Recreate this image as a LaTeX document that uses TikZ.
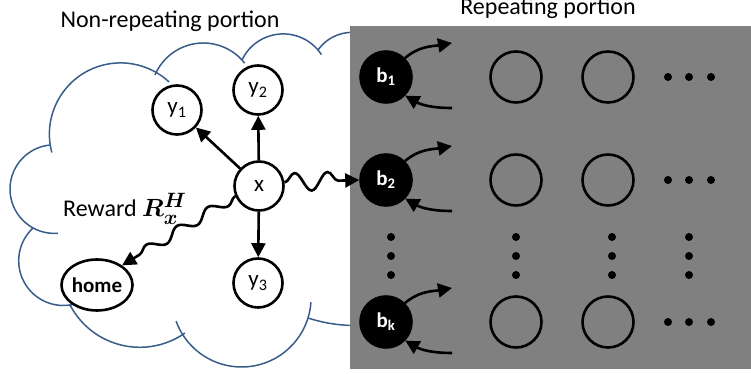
\documentclass[tikz,border=0pt]{standalone}
\usepackage{fontspec}
\setmainfont{Carlito}
\usetikzlibrary{arrows.meta,shapes.geometric,decorations.pathmorphing}
\definecolor{cloudblue}{RGB}{56,93,138}
\definecolor{boxgray}{RGB}{128,128,128}
\begin{document}
\begin{tikzpicture}[x=1pt,y=1pt,
  state/.style={circle,draw,line width=2.6pt,minimum size=49pt,inner sep=0pt,fill=white,font=\fontsize{23}{24}\selectfont},
  bstate/.style={state,minimum size=51pt,fill=black,text=white,font=\fontsize{21}{24}\selectfont\bfseries},
  blank/.style={circle,draw,line width=2.6pt,minimum size=51pt,inner sep=0pt},
  arr/.style={line width=2.6pt,-{Triangle[length=14pt,width=14pt]}},
  wavy/.style={arr,decorate,decoration={snake,amplitude=#1,segment length=33pt,post length=12pt}},
  cloudline/.style={cloudblue,line width=1.5pt},
  title/.style={inner sep=0pt,anchor=base,font=\fontsize{24}{26}\selectfont}]
\useasboundingbox (0,0) rectangle (751,374);
% cloud
\draw[cloudline] (120.6,239.9) ++(195:71.2) arc[start angle=195,end angle=47,radius=71.2];
\draw[cloudline] (203.3,278.5) ++(157:52.5) arc[start angle=157,end angle=38,radius=52.5];
\draw[cloudline] (283.2,294.5) ++(155:45.6) arc[start angle=155,end angle=33,radius=45.6];
\draw[cloudline] (352,300) ++(145:41.6) arc[start angle=145,end angle=70,radius=41.6];
\draw[cloudline] (355,199.5) ++(252:151) arc[start angle=252,end angle=285,radius=151];
\draw[cloudline] (241.5,76.6) ++(-4:69.6) arc[start angle=-4,end angle=-160,radius=69.6];
\draw[cloudline] (139.8,105.4) ++(-55:78.7) arc[start angle=-55,end angle=-152.5,radius=78.7];
\draw[cloudline] (63.4,113.2) ++(-68:44.7) arc[start angle=-68,end angle=-227,radius=44.7];
\draw[cloudline] (54.3,184.9) ++(-85:44.3) arc[start angle=-85,end angle=-264,radius=44.3];
\fill[boxgray] (350,5) rectangle (751,348);
\node[title] (nonrep) at (170,346) {Non-repeating portion};
\node[title] (rep) at (548,359) {Repeating portion};
\node[inner sep=0pt,anchor=base west,font=\fontsize{24}{26}\selectfont] (reward) at (63,157)
  {Reward {\boldmath\fontsize{28}{30}\selectfont$R_x^H$}};

\node[state] (x) at (259,188) {x};
\node[state] (y1) at (177,264) {y\textsubscript{1}};
\node[state] (y2) at (258,284) {y\textsubscript{2}};
\node[state] (y3) at (258,91) {y\textsubscript{3}};
\node[state,ellipse,minimum width=64pt,minimum height=51pt,font=\fontsize{21}{24}\selectfont\bfseries] (home) at (97,89) {home};
\draw[arr] (x) -- (y1);
\draw[arr] (x) -- (y2);
\draw[arr] (x) -- (y3);

\foreach \n/\y in {1/297,2/194,k/52} {
  \node[bstate] (b\n) at (386,\y) {b\textsubscript{\n}};
  \coordinate (o\n) at (452,\y+34);
  \coordinate (i\n) at (452,\y-31);
  \draw[arr] (b\n.45) to[out=40,in=190] (o\n);
  \draw[arr] (i\n) to[out=180,in=-30] (b\n.-44);
  \node[blank] (c\n) at (516,\y) {};
  \node[blank] (d\n) at (608,\y) {};
  \foreach \dx in {668,689,711} \fill (\dx,\y) circle (4);
}
\foreach \cx in {391,516,612,689}
  \foreach \cy in {137,118,99} \fill (\cx,\cy) circle (4);

\draw[wavy=9pt] (x.8) -- (b2.west);
\draw[wavy=5pt,decoration={segment length=36pt}] (x.203) -- (home.38);
\end{tikzpicture}
\end{document}
